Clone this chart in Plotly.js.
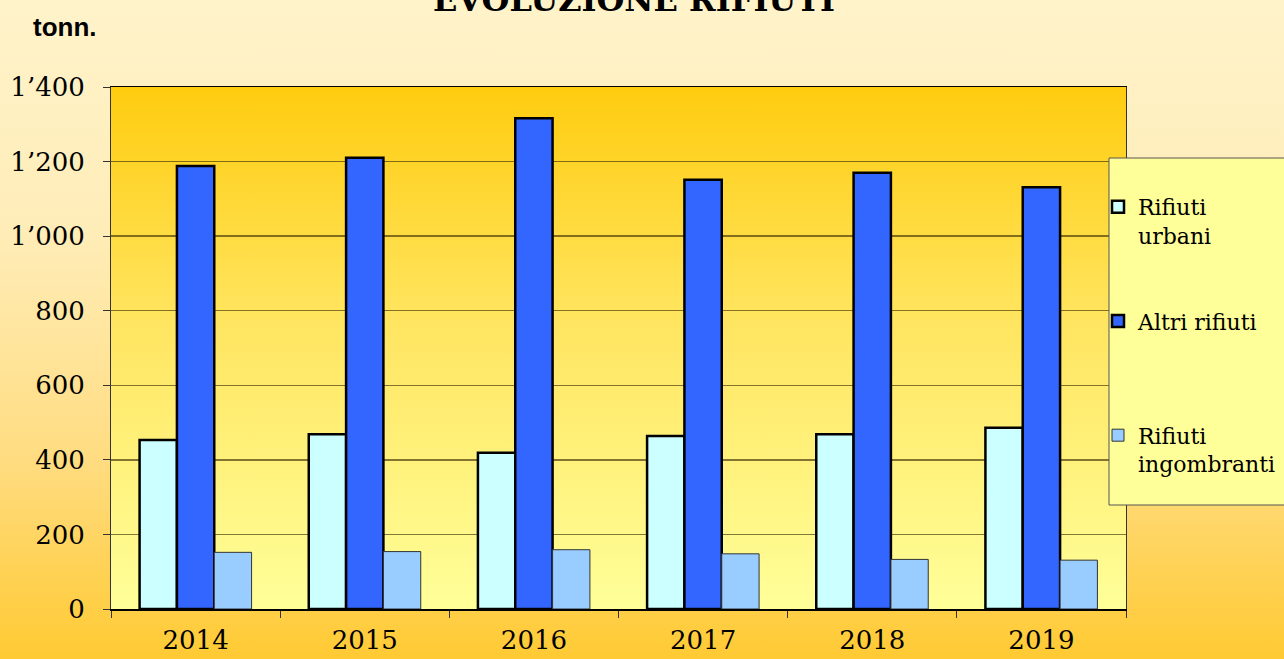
<!DOCTYPE html>
<html>
<head>
<meta charset="utf-8">
<script src="https://cdn.plot.ly/plotly-3.0.1.min.js"></script>
<style>
  html, body { margin: 0; padding: 0; }
  body { width: 1284px; height: 659px; overflow: hidden;
         background: linear-gradient(to bottom, #FFF3CA 0%, #FFEDB8 35%, #FFDC80 70%, #FFCA33 100%); }
  #chart { width: 1284px; height: 659px; }
</style>
</head>
<body>
<div id="chart"></div>
<script>
const years = ['2014', '2015', '2016', '2017', '2018', '2019'];
const rifiutiUrbani = [453, 469, 419, 464, 469, 486];
const altriRifiuti = [1188, 1210, 1316, 1151, 1170, 1131];
const rifiutiIngombranti = [152, 154, 159, 148, 133, 131];
const seriesNames = ['Rifiuti<br>urbani', 'Altri rifiuti<br> ', 'Rifiuti<br>ingombranti'];
const yTickVals = [0, 200, 400, 600, 800, 1000, 1200, 1400];
const yTickText = ['0', '200', '400', '600', '800', '1\u2019000', '1\u2019200', '1\u2019400'];

const serif = 'DejaVu Serif, serif';

const traces = [
  { type: 'bar', name: seriesNames[0], x: years, y: rifiutiUrbani, legendgroup: 'a',
    marker: { color: '#CCFFFF', line: { color: '#000000', width: 2.5 } } },
  { type: 'bar', name: seriesNames[1], x: years, y: altriRifiuti, legendgroup: 'b',
    marker: { color: '#3366FF', line: { color: '#000000', width: 2.5 } } },
  { type: 'bar', name: seriesNames[2], x: years, y: rifiutiIngombranti, legendgroup: 'c',
    marker: { color: '#99CCFF', line: { color: '#333333', width: 1 } } }
];

const gradSvg = "<svg xmlns='http://www.w3.org/2000/svg' width='100' height='100' preserveAspectRatio='none'>" +
  "<defs><linearGradient id='g' x1='0' y1='0' x2='0' y2='1'>" +
  "<stop offset='0' stop-color='#FFCC0F'/><stop offset='0.45' stop-color='#FFE560'/><stop offset='1' stop-color='#FFFF99'/>" +
  "</linearGradient></defs><rect width='100' height='100' fill='url(#g)'/></svg>";
const gradSrc = 'data:image/svg+xml;charset=utf-8,' + encodeURIComponent(gradSvg);

const layout = {
  width: 1284, height: 659,
  margin: { l: 111, r: 158, t: 87, b: 50, autoexpand: false },
  paper_bgcolor: 'rgba(0,0,0,0)',
  plot_bgcolor: 'rgba(0,0,0,0)',
  barmode: 'group',
  bargap: 0.338,
  bargroupgap: 0,
  title: {
    text: '<b>EVOLUZIONE RIFIUTI</b>',
    font: { family: serif, size: 32, color: '#000000' },
    xref: 'container', x: 634 / 1284, xanchor: 'center',
    yref: 'container', y: 1.0, yanchor: 'middle'
  },
  xaxis: {
    type: 'category',
    tickfont: { family: serif, size: 26, color: '#000000' },
    ticks: 'outside', tickson: 'boundaries', ticklen: 7, tickcolor: '#333333', tickwidth: 1,
    ticklabelstandoff: 7,
    showline: true, linecolor: '#000000', linewidth: 1.5, mirror: true,
    showgrid: false
  },
  yaxis: {
    range: [0, 1400],
    tickvals: yTickVals, ticktext: yTickText,
    tickfont: { family: serif, size: 26, color: '#000000' },
    ticks: 'outside', ticklen: 7, tickcolor: '#333333', tickwidth: 1,
    ticklabelstandoff: 13,
    showline: true, linecolor: '#333333', linewidth: 1, mirror: true,
    showgrid: true, gridcolor: 'rgba(55,40,0,0.62)', gridwidth: 1.5,
    zeroline: false
  },
  legend: {
    x: (1098 - 111) / 1015, xanchor: 'left', y: (609 - 186) / 522, yanchor: 'top',
    bgcolor: 'rgba(0,0,0,0)', borderwidth: 0,
    font: { family: serif, size: 22, color: '#000000' },
    valign: 'top', traceorder: 'grouped', tracegroupgap: 54,
    itemwidth: 30
  },
  shapes: [
    { type: 'rect', xref: 'paper', yref: 'paper', layer: 'above',
      x0: (1109 - 111) / 1015, x1: (1290 - 111) / 1015,
      y0: (609 - 505) / 522, y1: (609 - 158) / 522,
      fillcolor: '#FFFF99', line: { color: '#555555', width: 1 } }
  ],
  images: [
    { source: gradSrc, xref: 'paper', yref: 'paper', x: 0, y: 1, sizex: 1, sizey: 1,
      xanchor: 'left', yanchor: 'top', sizing: 'stretch', layer: 'below' }
  ],
  annotations: [
    { text: '<b>tonn.</b>', xref: 'paper', yref: 'paper', showarrow: false,
      x: (31 - 111) / 1015, xanchor: 'left', y: (609 - 27) / 522, yanchor: 'middle',
      font: { family: 'Liberation Sans, Arial, sans-serif', size: 26, color: '#000000' } }
  ]
};

Plotly.newPlot('chart', traces, layout, { displayModeBar: false, staticPlot: true });
</script>
</body>
</html>
